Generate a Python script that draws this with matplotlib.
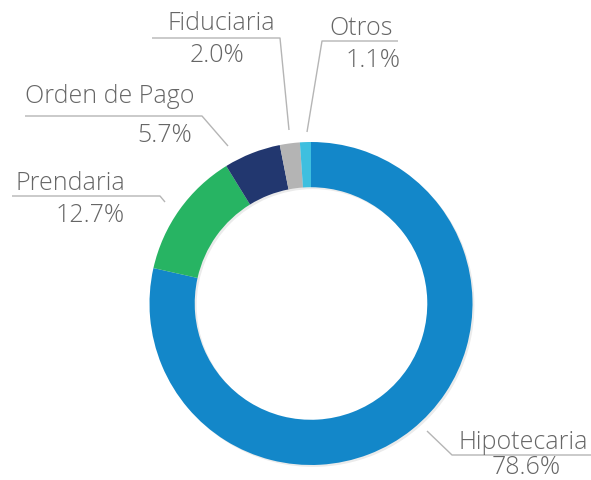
import matplotlib
matplotlib.use("Agg")
import matplotlib.pyplot as plt

# data
categories = ["Hipotecaria", "Prendaria", "Orden de Pago", "Fiduciaria", "Otros"]
shares = [78.6, 12.7, 5.7, 2.0, 1.1]
colors = ["#1387c9", "#27b463", "#22376f", "#b4b4b4", "#3ebfdf"]

# layout, in pixels of the 591x480 picture
W, H = 591, 480
CX, CY, R = 311, 303.5, 161.5
RING = 0.28

# leader lines: tip at ring, elbow, end of the underline
leaders = {
    "Hipotecaria": [(427, 431), (452, 455), (591, 455)],
    "Prendaria": [(165, 202), (160, 196), (12, 196)],
    "Orden de Pago": [(228, 146), (202, 116), (25, 116)],
    "Fiduciaria": [(289, 130), (280, 38), (152, 38)],
    "Otros": [(307, 132), (322, 41), (398, 41)],
}
# x centre of name / value, baseline gap above and below the underline
label_pos = {
    "Hipotecaria": (523, 526, 6, 19),
    "Prendaria": (70, 90, 6, 26),
    "Orden de Pago": (110, 165, 13, 26),
    "Fiduciaria": (221, 217, 8, 24),
    "Otros": (361, 373, 6, 26),
}


def px(x, y):
    """pixel position -> data units (centre of ring at 0,0, radius 1)"""
    return (x - CX) / R, (CY - y) / R


fig = plt.figure(figsize=(W / 100, H / 100), dpi=100)
ax = fig.add_axes([0, 0, 1, 1])

# faint shadow under the ring
ax.pie([1], radius=1.0, colors=["#000000"], center=(0.012, -0.012),
       wedgeprops=dict(width=RING, linewidth=0, alpha=0.08), frame=True)
ax.pie(shares, radius=1.0, colors=colors, startangle=90, counterclock=False,
       wedgeprops=dict(width=RING, linewidth=0), frame=True)
ax.set_xlim(px(0, 0)[0], px(W, 0)[0])
ax.set_ylim(px(0, H)[1], px(0, 0)[1])
ax.set_aspect("equal")
ax.axis("off")

font = dict(family="Open Sans", fontweight="light", fontsize=18, color="#666666")
for name, val in zip(categories, shares):
    pts = [px(*p) for p in leaders[name]]
    ax.plot([p[0] for p in pts], [p[1] for p in pts], color="#b5b5b5", lw=1.0,
            solid_capstyle="butt")
    line_y = leaders[name][2][1]
    nx, vx, up, down = label_pos[name]
    ax.text(*px(nx, line_y - up), name, ha="center", va="baseline", **font)
    ax.text(*px(vx, line_y + down), f"{val:.1f}%", ha="center", va="baseline", **font)

fig.savefig("out.png", dpi=100)
